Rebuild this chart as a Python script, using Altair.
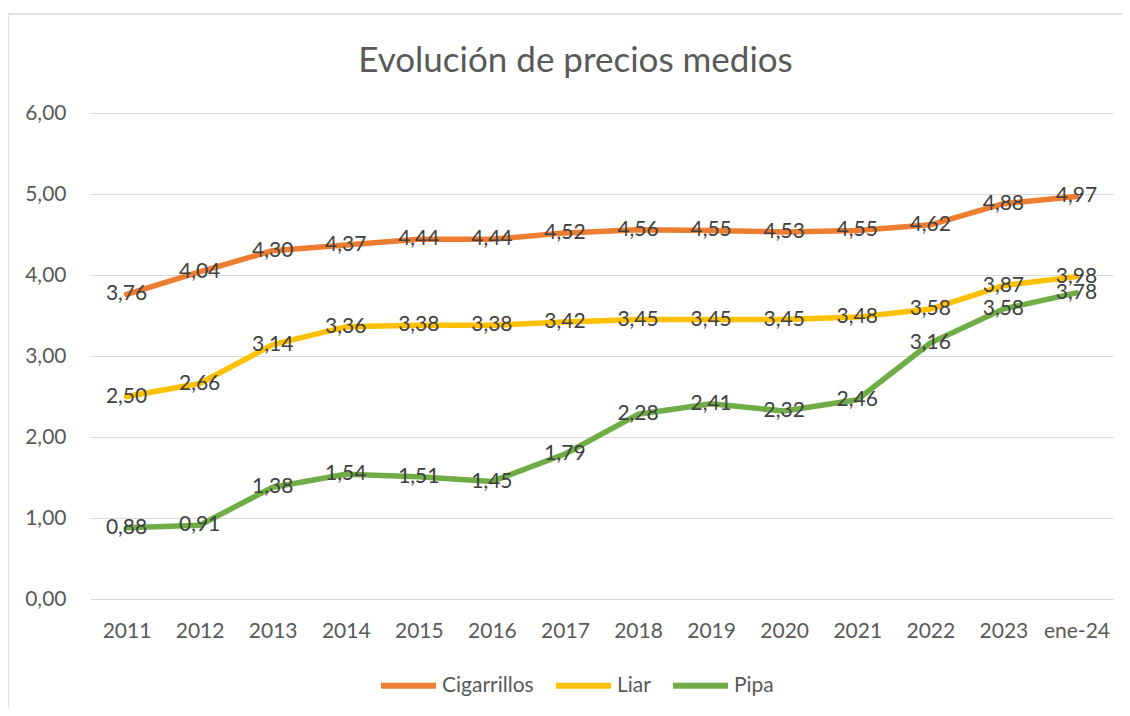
import altair as alt
import pandas as pd

categories = ["2011", "2012", "2013", "2014", "2015", "2016", "2017", "2018",
              "2019", "2020", "2021", "2022", "2023", "ene-24"]
cigarrillos = [3.76, 4.04, 4.30, 4.37, 4.44, 4.44, 4.52, 4.56, 4.55, 4.53, 4.55, 4.62, 4.88, 4.97]
liar = [2.50, 2.66, 3.14, 3.36, 3.38, 3.38, 3.42, 3.45, 3.45, 3.45, 3.48, 3.58, 3.87, 3.98]
pipa = [0.88, 0.91, 1.38, 1.54, 1.51, 1.45, 1.79, 2.28, 2.41, 2.32, 2.46, 3.16, 3.58, 3.78]
series_names = ["Cigarrillos", "Liar", "Pipa"]
series_colors = ["#ED7D31", "#FFC000", "#70AD47"]

rows = []
for name, vals in zip(series_names, [cigarrillos, liar, pipa]):
    for i, (c, v) in enumerate(zip(categories, vals)):
        rows.append({"periodo": c, "serie": name, "valor": v, "orden": i})
df = pd.DataFrame(rows)

FONT = "Lato"
FS = 21
W, H = 1023, 486

xenc = alt.X("periodo:N", sort=categories,
             scale=alt.Scale(type="point", padding=0.5),
             axis=alt.Axis(title=None, labelAngle=0, grid=False, domain=False, ticks=False,
                           labelPadding=21, labelFontSize=FS, labelColor="#595959",
                           labelFont=FONT))
yenc = alt.Y("valor:Q", scale=alt.Scale(domain=[0, 6], nice=False),
             axis=alt.Axis(title=None, values=[0, 1, 2, 3, 4, 5, 6], domain=False, ticks=False,
                           gridColor="#D9D9D9", gridWidth=1.2,
                           labelExpr="replace(format(datum.value, '.2f'), '.', ',')",
                           labelPadding=24, labelFontSize=FS, labelColor="#595959",
                           labelFont=FONT))

base = alt.Chart(df)

lines = base.mark_line(strokeWidth=5.5, strokeCap="round", strokeJoin="round").encode(
    x=xenc, y=yenc,
    color=alt.Color("serie:N",
                    scale=alt.Scale(domain=series_names, range=series_colors),
                    legend=alt.Legend(title=None, orient="none", direction="horizontal",
                                      legendX=288, legendY=542, padding=0,
                                      symbolType="stroke", symbolSize=3025,
                                      symbolStrokeWidth=6, labelFontSize=FS,
                                      labelColor="#595959", labelFont=FONT,
                                      labelOffset=3, columnPadding=10)),
    order="orden:Q",
    detail="serie:N",
)

labels = base.transform_calculate(
    etiqueta="replace(format(datum.valor, '.2f'), '.', ',')"
).mark_text(fontSize=FS, color="#404040", font=FONT, align="center", baseline="middle").encode(
    x=alt.X("periodo:N", sort=categories), y="valor:Q", text="etiqueta:N"
)

border = alt.Chart(pd.DataFrame({"a": [0]})).mark_rect(
    fillOpacity=0, stroke="#D9D9D9", strokeWidth=1.5
).encode(x=alt.value(-82), x2=alt.value(1300), y=alt.value(-99), y2=alt.value(900))

chart = alt.layer(border, lines, labels).properties(
    width=W, height=H,
    title=alt.TitleParams("Evolución de precios medios", orient="top", fontSize=35,
                          font=FONT, color="#595959", fontWeight="normal",
                          anchor="middle", frame="group", baseline="top",
                          dx=-26, offset=-66),
    autosize=alt.AutoSizeParams(type="none"),
    padding={"left": 82, "top": 105, "right": 9, "bottom": 109},
    background="white",
).configure_view(strokeWidth=0)

chart.save("out.html", embed_options={"renderer": "svg", "actions": False})
